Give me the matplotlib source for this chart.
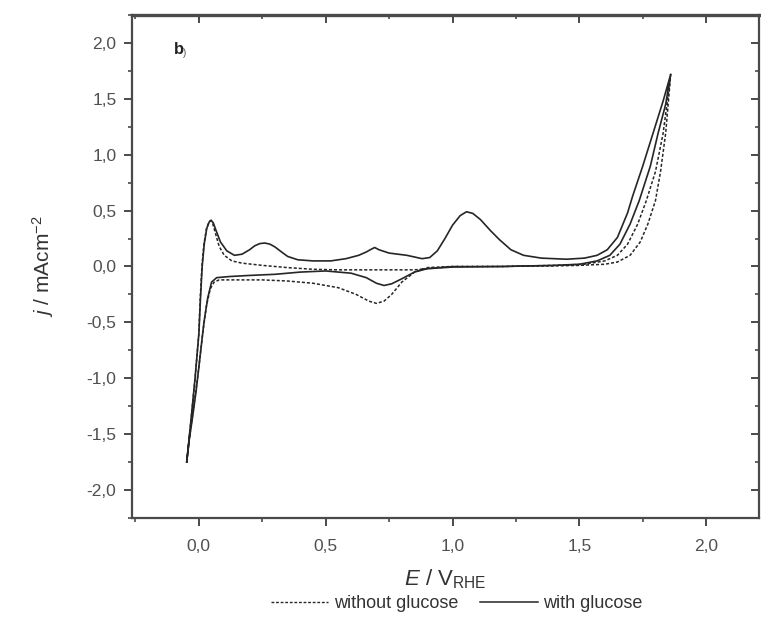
import matplotlib
matplotlib.use("Agg")
import matplotlib.pyplot as plt
from matplotlib.lines import Line2D
from matplotlib.ticker import MultipleLocator, FuncFormatter

plt.rcParams['font.family'] = ['Liberation Sans', 'DejaVu Sans']
plt.rcParams['mathtext.fontset'] = 'custom'
plt.rcParams['mathtext.rm'] = 'Liberation Sans'
plt.rcParams['mathtext.it'] = 'Liberation Sans:italic'

# ---- data ----
# without glucose, anodic scan
E_wo_an = [-0.048, -0.03, -0.015, 0.0, 0.005, 0.012, 0.02, 0.03, 0.04, 0.047, 0.055, 0.065,
           0.08, 0.1, 0.13, 0.17, 0.25, 0.35, 0.45, 0.55, 0.65, 0.75, 0.85, 0.9, 0.95, 1.0,
           1.1, 1.2, 1.3, 1.4, 1.5, 1.6, 1.65, 1.7, 1.74, 1.77, 1.80, 1.82, 1.84, 1.85, 1.86]
j_wo_an = [-1.75, -1.35, -1.0, -0.6, -0.3, 0.0, 0.2, 0.34, 0.40, 0.41, 0.38, 0.30,
           0.18, 0.10, 0.05, 0.03, 0.01, -0.01, -0.025, -0.03, -0.03, -0.03, -0.03, -0.02, -0.01, 0.0,
           0.0, 0.0, 0.005, 0.005, 0.01, 0.02, 0.04, 0.10, 0.22, 0.38, 0.59, 0.85, 1.19, 1.45, 1.72]
# without glucose, cathodic scan
E_wo_ca = [1.86, 1.845, 1.83, 1.80, 1.764, 1.73, 1.69, 1.65, 1.6, 1.52, 1.4, 1.2, 1.0, 0.9,
           0.85, 0.8, 0.76, 0.73, 0.70, 0.67, 0.62, 0.55, 0.45, 0.35, 0.25, 0.15, 0.08, 0.06,
           0.045, 0.03, 0.015, 0.0, -0.02, -0.035, -0.048]
j_wo_ca = [1.72, 1.45, 1.19, 0.85, 0.59, 0.38, 0.20, 0.10, 0.05, 0.02, 0.01, 0.0, 0.0, -0.01,
           -0.05, -0.14, -0.25, -0.31, -0.33, -0.31, -0.25, -0.19, -0.15, -0.13, -0.12, -0.12, -0.12, -0.14,
           -0.2, -0.35, -0.6, -0.9, -1.25, -1.5, -1.75]

# with glucose, anodic scan
E_w_an = [-0.048, -0.03, -0.015, 0.0, 0.006, 0.013, 0.021, 0.031, 0.041, 0.048, 0.057, 0.068,
          0.085, 0.11, 0.14, 0.17, 0.2, 0.22, 0.24, 0.26, 0.28, 0.30, 0.32, 0.35, 0.39, 0.45,
          0.52, 0.58, 0.63, 0.66, 0.68, 0.693, 0.71, 0.75, 0.82, 0.88, 0.91, 0.94, 0.97, 1.0,
          1.03, 1.055, 1.08, 1.11, 1.15, 1.185, 1.23, 1.28, 1.35, 1.45, 1.52, 1.57, 1.61, 1.65,
          1.69, 1.71, 1.75, 1.79, 1.83, 1.86]
j_w_an = [-1.75, -1.35, -1.0, -0.6, -0.3, 0.0, 0.2, 0.34, 0.40, 0.415, 0.39, 0.32,
          0.22, 0.14, 0.10, 0.11, 0.15, 0.185, 0.205, 0.21, 0.20, 0.175, 0.14, 0.09, 0.06, 0.05,
          0.05, 0.07, 0.10, 0.13, 0.155, 0.17, 0.15, 0.12, 0.10, 0.07, 0.08, 0.14, 0.25, 0.37,
          0.455, 0.49, 0.475, 0.42, 0.32, 0.24, 0.15, 0.10, 0.075, 0.065, 0.075, 0.10, 0.15, 0.26,
          0.48, 0.63, 0.90, 1.19, 1.48, 1.72]
# with glucose, cathodic scan
E_w_ca = [1.86, 1.84, 1.81, 1.78, 1.736, 1.70, 1.66, 1.62, 1.57, 1.5, 1.4, 1.2, 1.0, 0.9,
          0.85, 0.8, 0.76, 0.73, 0.70, 0.66, 0.6, 0.5, 0.4, 0.3, 0.2, 0.12, 0.07, 0.05,
          0.035, 0.02, 0.005, -0.01, -0.025, -0.038, -0.048]
j_w_ca = [1.72, 1.45, 1.19, 0.90, 0.59, 0.38, 0.20, 0.10, 0.05, 0.02, 0.01, 0.0, -0.005, -0.02,
          -0.05, -0.11, -0.155, -0.17, -0.15, -0.10, -0.06, -0.04, -0.05, -0.07, -0.08, -0.09, -0.10, -0.14,
          -0.28, -0.5, -0.8, -1.1, -1.35, -1.55, -1.75]

x_ticks = [0.0, 0.5, 1.0, 1.5, 2.0]
y_ticks = [-2.0, -1.5, -1.0, -0.5, 0.0, 0.5, 1.0, 1.5, 2.0]
series_labels = ['without glucose', 'with glucose']

# ---- figure ----
fig = plt.figure(figsize=(7.61, 6.30), dpi=100)
ax = fig.add_axes([0.173, 0.178, 0.825, 0.798])

line_col = '#262626'
ax.plot(E_wo_an + E_wo_ca, j_wo_an + j_wo_ca, color=line_col, lw=1.1,
        linestyle=(0, (2.0, 1.3)))
ax.plot(E_w_an + E_w_ca, j_w_an + j_w_ca, color=line_col, lw=1.2, linestyle='-')

ax.set_xlim(-0.265, 2.21)
ax.set_ylim(-2.25, 2.25)

comma = FuncFormatter(lambda v, p: f"{v:.1f}".replace('.', ','))
ax.set_xticks(x_ticks)
ax.set_yticks(y_ticks)
ax.xaxis.set_major_formatter(comma)
ax.yaxis.set_major_formatter(comma)
ax.xaxis.set_minor_locator(MultipleLocator(0.25))
ax.yaxis.set_minor_locator(MultipleLocator(0.25))

spine_col = '#4a4a4a'
for s in ax.spines.values():
    s.set_color(spine_col)
    s.set_linewidth(1.6)
ax.spines['top'].set_linewidth(2.4)

ax.tick_params(which='major', direction='out', length=6, width=1.4, color=spine_col,
               labelsize=12.5, labelcolor='#505050', pad=5)
ax.tick_params(axis='x', which='major', pad=9)
ax.tick_params(which='minor', direction='out', length=3, width=1.2, color=spine_col)

# top and right ticks pointing inward
top = ax.secondary_xaxis('top')
top.set_xticks(x_ticks)
top.xaxis.set_minor_locator(MultipleLocator(0.25))
top.tick_params(which='major', direction='in', length=6, width=1.4, color=spine_col, labeltop=False)
top.tick_params(which='minor', direction='in', length=3, width=1.2, color=spine_col)
top.spines['top'].set_visible(False)
right = ax.secondary_yaxis('right')
right.set_yticks(y_ticks)
right.yaxis.set_minor_locator(MultipleLocator(0.25))
right.tick_params(which='major', direction='in', length=6, width=1.4, color=spine_col, labelright=False)
right.tick_params(which='minor', direction='in', length=3, width=1.2, color=spine_col)
right.spines['right'].set_visible(False)

ax.set_xlabel(r'$\it{E}$ / V$_{\rm RHE}$', fontsize=16, color='#333333', labelpad=10)
ax.set_ylabel(r'$\it{j}$ / mAcm$^{-2}$', fontsize=15, color='#333333', labelpad=22)

ax.text(-0.1, 1.94, 'b', fontsize=12, fontweight='bold', color='#222222',
        ha='left', va='center')
ax.text(-0.063, 1.91, ')', fontsize=7, color='#555555', ha='left', va='center')

handles = [Line2D([], [], color=line_col, lw=1.0, linestyle=(0, (2.0, 1.3))),
           Line2D([], [], color=line_col, lw=1.1)]
fig.legend(handles, series_labels, loc='center', bbox_to_anchor=(0.6, 0.042), ncol=2,
           frameon=False, fontsize=13, handlelength=3.2, handletextpad=0.3,
           columnspacing=1.2, labelcolor='#333333')

fig.savefig('out.png', dpi=100)
